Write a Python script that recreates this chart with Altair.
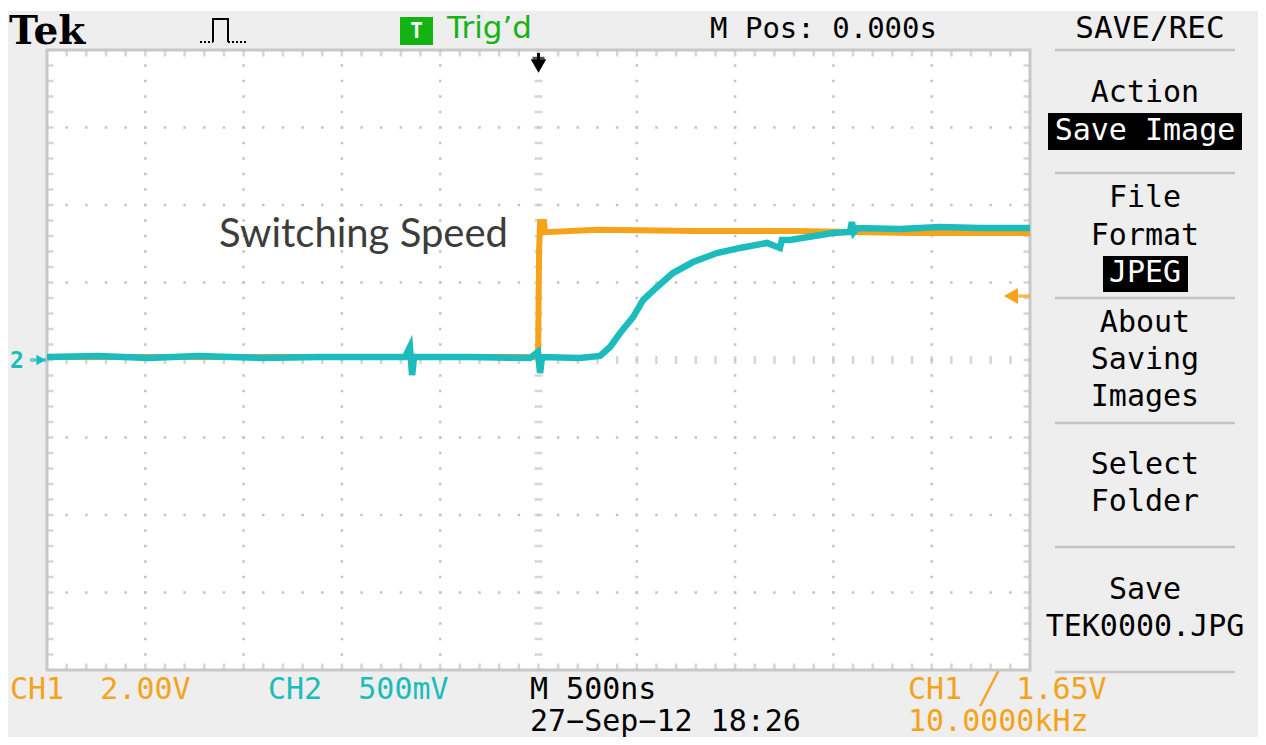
import altair as alt
import pandas as pd

# ---------------- data ----------------
# CH1 (orange, 2.00 V/div): time in ns, volts
ch1_t = [-2500, -1500, -500, -15, -2, 3, 8, 28, 33, 300, 800, 1300, 1600, 1900, 2500]
ch1_v = [0.08, 0.08, 0.08, 0.08, 0.08, 2.84, 3.56, 3.56, 3.30, 3.36, 3.33, 3.33, 3.30, 3.28, 3.28]

# CH2 (cyan, 500 mV/div): time in ns, volts
ch2_t = [-2500, -2239, -1985, -1731, -1417, -1112, -807, -679, -654, -643, -633, -348,
         -43, -3, 8, 18, 211, 313, 364, 415, 481, 532, 603, 684, 786, 908, 1025, 1162,
         1228, 1238, 1279, 1498, 1584, 1594, 1604, 1620, 1838, 2042, 2246, 2500]
ch2_v = [0.019, 0.026, 0.013, 0.026, 0.013, 0.019, 0.019, 0.019, 0.084, -0.097, 0.019, 0.019,
         0.013, 0.052, -0.084, 0.019, 0.013, 0.026, 0.084, 0.174, 0.277, 0.387, 0.471, 0.561,
         0.632, 0.690, 0.723, 0.755, 0.723, 0.774, 0.774, 0.819, 0.826, 0.890, 0.826, 0.852,
         0.845, 0.858, 0.852, 0.852]

ch1_scale = 2.0      # V/div
ch2_scale = 0.5      # V/div
trig_level = 1.65    # V on CH1

# graticule: 10 x 8 divisions, 500 ns/div
x_div = [-2000, -1500, -1000, -500, 500, 1000, 1500, 2000]
y_div = [-3, -2, -1, 1, 2, 3]
x_minor = [k * 100 for k in range(-25, 26)]
y_minor = [round(k * 0.2, 2) for k in range(-20, 21)]

# ---------------- styling ----------------
W, H = 1250, 729
MONO = "DejaVu Sans Mono"
SANS = "DejaVu Sans"
ORANGE = "#f5a31a"
CYAN = "#1cbcbc"
GRID = "#c4c4c4"
BG = "#eeeeee"
NB = "\u00a0"

xs = alt.Scale(domain=[-2698.4, 3659.7], nice=False, zero=False)
ys = alt.Scale(domain=[-4.8645, 4.5419], nice=False, zero=False)
one = pd.DataFrame({"a": [0]})


def X(f):
    return alt.X(f, type="quantitative", scale=xs, axis=None)


def Y(f):
    return alt.Y(f, type="quantitative", scale=ys, axis=None)


def txt(s, x, y, size=30, color="#000000", font=MONO, align="left", weight="normal",
        baseline="middle"):
    return alt.Chart(pd.DataFrame({"t": [s]})).mark_text(
        align=align, baseline=baseline, fontSize=size, font=font, color=color, fontWeight=weight
    ).encode(x=alt.value(x - 8), y=alt.value(y - 8), text="t:N")


def prule(x1, y1, x2, y2, color, w, dash=None):
    kw = {"strokeDash": dash} if dash else {}
    return alt.Chart(one).mark_rule(color=color, strokeWidth=w, **kw).encode(
        x=alt.value(x1 - 8), x2=alt.value(x2 - 8), y=alt.value(y1 - 8), y2=alt.value(y2 - 8))


def prect(x1, y1, x2, y2, color):
    return alt.Chart(one).mark_rect(color=color).encode(
        x=alt.value(x1 - 8), x2=alt.value(x2 - 8), y=alt.value(y1 - 8), y2=alt.value(y2 - 8))


layers = []
# background
layers.append(prect(0, 11, 1266, 745, BG))

# plot area
frame = pd.DataFrame({"x0": [-2500], "x1": [2500], "y0": [-4], "y1": [4]})
layers.append(alt.Chart(frame).mark_rect(fill="white", stroke="#c8c8c8", strokeWidth=3).encode(
    x=X("x0"), x2="x1", y=Y("y0"), y2="y1"))

# dotted grid lines
vlines = pd.DataFrame({"x": x_div, "y0": -4, "y1": 4})
layers.append(alt.Chart(vlines).mark_rule(color=GRID, strokeWidth=2.5, strokeDash=[2.5, 13],
                                          strokeDashOffset=1.25).encode(
    x=X("x"), y=Y("y0"), y2="y1"))
hlines = pd.DataFrame({"y": y_div, "x0": -2500, "x1": 2500})
layers.append(alt.Chart(hlines).mark_rule(color=GRID, strokeWidth=2.5, strokeDash=[2.5, 17.16],
                                          strokeDashOffset=1.25).encode(
    y=Y("y"), x=X("x0"), x2="x1"))

# centre cross ticks
cv = pd.DataFrame({"x": 0, "y": y_minor})
layers.append(alt.Chart(cv).mark_tick(color=GRID, orient="horizontal", size=8, thickness=2.5).encode(
    x=X("x"), y=Y("y")))
ch = pd.DataFrame({"x": x_minor, "y": 0})
layers.append(alt.Chart(ch).mark_tick(color=GRID, orient="vertical", size=8, thickness=2.5).encode(
    x=X("x"), y=Y("y")))

# border ticks
bt = pd.DataFrame({"x": x_minor[1:-1], "yt": 4, "yb": -4})
layers.append(alt.Chart(bt).mark_tick(color=GRID, orient="vertical", size=7, thickness=2.5, yOffset=3).encode(
    x=X("x"), y=Y("yt")))
layers.append(alt.Chart(bt).mark_tick(color=GRID, orient="vertical", size=7, thickness=2.5, yOffset=-3).encode(
    x=X("x"), y=Y("yb")))
bl = pd.DataFrame({"y": y_minor[1:-1], "xl": -2500, "xr": 2500})
layers.append(alt.Chart(bl).mark_tick(color=GRID, orient="horizontal", size=7, thickness=2.5, xOffset=3).encode(
    x=X("xl"), y=Y("y")))
layers.append(alt.Chart(bl).mark_tick(color=GRID, orient="horizontal", size=7, thickness=2.5, xOffset=-3).encode(
    x=X("xr"), y=Y("y")))

# traces
d1 = pd.DataFrame({"t": ch1_t, "v": ch1_v})
layers.append(alt.Chart(d1).transform_calculate(div=f"datum.v / {ch1_scale}").mark_line(
    color=ORANGE, strokeWidth=6, strokeJoin="miter", strokeCap="butt").encode(
    x=X("t"), y=Y("div:Q"), order="t:Q"))
d2 = pd.DataFrame({"t": ch2_t, "v": ch2_v})
layers.append(alt.Chart(d2).transform_calculate(div=f"datum.v / {ch2_scale}").mark_line(
    color=CYAN, strokeWidth=6.5, strokeJoin="miter", strokeCap="butt").encode(
    x=X("t"), y=Y("div:Q"), order="t:Q"))

# trigger position marker (top centre)
tp = pd.DataFrame({"t": [0]})
layers.append(alt.Chart(tp).mark_rule(color="black", strokeWidth=3).encode(
    x=X("t"), y=alt.value(53 - 8), y2=alt.value(66 - 8)))
layers.append(alt.Chart(tp).mark_tick(color="black", orient="horizontal", size=12, thickness=2.5).encode(
    x=X("t"), y=alt.value(58 - 8)))
layers.append(alt.Chart(tp).mark_point(shape="triangle-down", filled=True, color="black", size=240,
                                       opacity=1).encode(x=X("t"), y=alt.value(66 - 8)))

# trigger level marker (right, CH1)
tl = pd.DataFrame({"t": [2500], "d": [trig_level / ch1_scale]})
layers.append(alt.Chart(tl).mark_tick(color=ORANGE, orient="horizontal", size=18, thickness=3.5,
                                      xOffset=-9).encode(x=X("t"), y=Y("d")))
layers.append(alt.Chart(tl).mark_point(shape="triangle-left", filled=True, color=ORANGE, size=260,
                                       opacity=1, xOffset=-19).encode(x=X("t"), y=Y("d")))

# CH2 ground marker (left)
gm = pd.DataFrame({"t": [-2500], "d": [0.0]})
layers.append(alt.Chart(gm).mark_tick(color=CYAN, orient="horizontal", size=16, thickness=3.5,
                                      xOffset=-9).encode(x=X("t"), y=Y("d")))
layers.append(alt.Chart(gm).mark_point(shape="triangle-right", filled=True, color=CYAN, size=110,
                                       opacity=1, xOffset=-6).encode(x=X("t"), y=Y("d")))
layers.append(txt("2", 10, 361, size=23, color=CYAN, weight="bold"))

# ---------------- header ----------------
layers.append(txt("Tek", 9, 44, size=39, font="DejaVu Serif", weight="bold", baseline="alphabetic"))
layers.append(prule(200, 42, 213, 42, "black", 2, dash=[2, 2]))
layers.append(prule(228, 42, 246, 42, "black", 2, dash=[2, 2]))
pulse = pd.DataFrame({"px": [213, 213, 228, 228], "py": [42, 19, 19, 42]})
layers.append(alt.Chart(pulse).mark_line(color="black", strokeWidth=2).encode(
    x=alt.X("px:Q", scale=None), y=alt.Y("py:Q", scale=None), order=alt.Order("idx:Q")
).transform_window(idx="row_number()").transform_calculate(px="datum.px - 8", py="datum.py - 8"))
layers.append(prect(400, 17, 433, 45, "#13b313"))
layers.append(txt("T", 416.5, 32, size=21, color="white", weight="bold", align="center"))
layers.append(txt("Trig\u2019d", 447, 29, size=31, color="#17b317", font=SANS))
layers.append(txt("M Pos: 0.000s", 710, 29, size=29))
layers.append(txt("SAVE/REC", 1150, 29, size=31, align="center"))

# ---------------- side menu ----------------
for yy in [50, 173, 298, 423, 547, 672]:
    layers.append(prule(1055, yy, 1235, yy, "#c4c4c4", 2.5))
layers.append(prect(1048, 113, 1242, 150, "black"))
layers.append(prect(1103, 256, 1188, 292, "black"))
menu = [("Action", 93, "black"), ("Save Image", 131, "white"), ("File", 198, "black"),
        ("Format", 236, "black"), ("JPEG", 273, "white"), ("About", 323, "black"),
        ("Saving", 360, "black"), ("Images", 397, "black"), ("Select", 465, "black"),
        ("Folder", 502, "black"), ("Save", 590, "black"), ("TEK0000.JPG", 627, "black")]
for s, yy, c in menu:
    layers.append(txt(s, 1145, yy, size=30, color=c, align="center"))

# ---------------- status bar ----------------
layers.append(txt("CH1" + NB * 2 + "2.00V", 10, 690, size=30, color=ORANGE))
layers.append(txt("CH2" + NB * 2 + "500mV", 268, 690, size=30, color=CYAN))
layers.append(txt("M 500ns", 530, 690, size=30))
layers.append(txt("27\u2212Sep\u221212 18:26", 530, 722, size=30))
layers.append(txt("CH1 \u2571 1.65V", 908, 690, size=30, color=ORANGE))
layers.append(txt("10.0000kHz", 908, 722, size=30, color=ORANGE))

# annotation
layers.append(txt("Switching Speed", 219, 235, size=40, color="#3c3c3c", font="Lato"))

chart = alt.layer(*layers).properties(
    width=W, height=H, autosize=alt.AutoSizeParams(type="none"), padding=0,
    background="white"
).configure_view(stroke=None)

chart.save("out.html", embed_options={"renderer": "svg", "actions": False})
